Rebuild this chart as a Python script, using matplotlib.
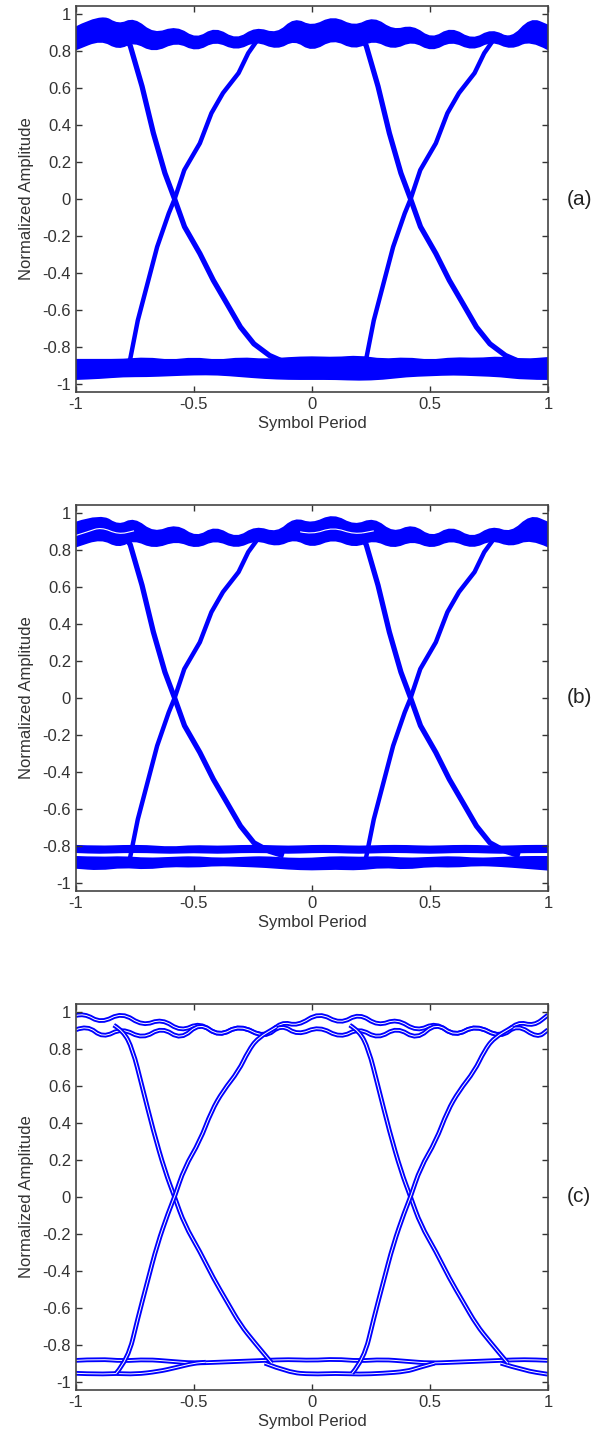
import matplotlib.pyplot as plt
from matplotlib.path import Path
from matplotlib.patches import PathPatch

plt.rcParams['font.family'] = ['Liberation Sans', 'DejaVu Sans']
BLUE = '#0000ff'

# ---------------- panel (a) ----------------
a_up_x = [-1.0, -0.893, -0.82, -0.754, -0.67, -0.574, -0.49, -0.41, -0.32, -0.238, -0.148, -0.074, 0.0,
          0.09, 0.18, 0.262, 0.344, 0.426, 0.508, 0.59, 0.68, 0.762, 0.844, 0.926, 1.0]
a_up_top = [0.93, 1.0, 0.94, 0.98, 0.89, 0.935, 0.862, 0.93, 0.857, 0.93, 0.89, 0.98, 0.93,
            0.99, 0.93, 0.985, 0.91, 0.94, 0.862, 0.93, 0.857, 0.92, 0.862, 0.98, 0.94]
a_up_bot = [0.81, 0.865, 0.81, 0.855, 0.795, 0.855, 0.80, 0.86, 0.805, 0.86, 0.81, 0.865, 0.80,
            0.87, 0.81, 0.865, 0.81, 0.86, 0.80, 0.86, 0.805, 0.86, 0.81, 0.865, 0.81]
a_lo_x = [-1, -0.9, -0.8, -0.7, -0.6, -0.5, -0.4, -0.3, -0.2, -0.1, 0, 0.1, 0.2, 0.3, 0.4, 0.5, 0.6, 0.7, 0.8, 0.9, 1]
a_lo_top = [-0.87, -0.87, -0.87, -0.86, -0.875, -0.86, -0.875, -0.86, -0.87, -0.86, -0.855,
            -0.86, -0.85, -0.87, -0.86, -0.875, -0.86, -0.865, -0.855, -0.87, -0.86]
a_lo_bot = [-0.975, -0.97, -0.96, -0.96, -0.955, -0.95, -0.95, -0.96, -0.97, -0.975, -0.975,
            -0.975, -0.98, -0.975, -0.96, -0.955, -0.95, -0.955, -0.96, -0.975, -0.975]
a_fall1_x = [-0.79, -0.77, -0.72, -0.672, -0.623, -0.582, -0.54, -0.475, -0.418, -0.36, -0.303, -0.246, -0.18, -0.13]
a_fall2_x = [0.21, 0.23, 0.28, 0.328, 0.377, 0.418, 0.46, 0.525, 0.582, 0.64, 0.697, 0.754, 0.82, 0.87]
a_fall_y = [0.87, 0.83, 0.61, 0.357, 0.14, 0.0, -0.15, -0.295, -0.44, -0.567, -0.693, -0.784, -0.847, -0.875]
a_rise1_x = [-0.78, -0.77, -0.738, -0.697, -0.656, -0.607, -0.582, -0.541, -0.475, -0.426, -0.377, -0.311, -0.27, -0.23, -0.2]
a_rise2_x = [0.22, 0.23, 0.262, 0.303, 0.344, 0.393, 0.418, 0.459, 0.525, 0.574, 0.623, 0.689, 0.73, 0.77, 0.8]
a_rise_y = [-0.89, -0.865, -0.657, -0.458, -0.259, -0.078, 0.0, 0.157, 0.302, 0.465, 0.574, 0.682, 0.79, 0.863, 0.88]

# ---------------- panel (b) ----------------
b_up_x = a_up_x
b_up_top = [0.95, 0.995, 0.93, 0.975, 0.89, 0.94, 0.865, 0.93, 0.86, 0.93, 0.89, 0.975, 0.94,
            0.995, 0.93, 0.975, 0.89, 0.94, 0.865, 0.93, 0.86, 0.93, 0.89, 0.99, 0.95]
b_up_bot = [0.82, 0.865, 0.815, 0.86, 0.81, 0.855, 0.81, 0.86, 0.81, 0.86, 0.82, 0.865, 0.815,
            0.865, 0.815, 0.86, 0.81, 0.855, 0.81, 0.86, 0.81, 0.86, 0.82, 0.865, 0.82]
b_gap_x = [-1.0, -0.95, -0.893, -0.82, -0.754]
b_gap_y = [0.88, 0.9, 0.925, 0.885, 0.905]
b_gap2_x = [-0.05, 0.0, 0.09, 0.18, 0.262]
b_gap2_y = [0.9, 0.885, 0.925, 0.885, 0.905]
b_lo1_x = a_lo_x
b_lo1_top = [-0.80, -0.805, -0.80, -0.80, -0.81, -0.80, -0.805, -0.80, -0.80, -0.805, -0.80,
             -0.80, -0.805, -0.80, -0.80, -0.805, -0.80, -0.80, -0.805, -0.80, -0.80]
b_lo1_bot = [-0.835, -0.84, -0.835, -0.835, -0.84, -0.835, -0.84, -0.835, -0.835, -0.84, -0.835,
             -0.835, -0.84, -0.835, -0.835, -0.84, -0.835, -0.835, -0.84, -0.835, -0.835]
b_lo2_top = [-0.86, -0.865, -0.86, -0.87, -0.865, -0.86, -0.87, -0.865, -0.86, -0.87, -0.87,
             -0.86, -0.865, -0.86, -0.87, -0.865, -0.86, -0.87, -0.865, -0.86, -0.86]
b_lo2_bot = [-0.92, -0.93, -0.915, -0.925, -0.91, -0.915, -0.905, -0.91, -0.915, -0.925, -0.93,
             -0.925, -0.93, -0.915, -0.925, -0.91, -0.915, -0.905, -0.91, -0.92, -0.93]
b_fall_y = [0.87, 0.83, 0.61, 0.357, 0.14, 0.0, -0.15, -0.295, -0.44, -0.567, -0.693, -0.784, -0.83, -0.85]
b_rise_y = [-0.9, -0.86, -0.657, -0.458, -0.259, -0.078, 0.0, 0.157, 0.302, 0.465, 0.574, 0.682, 0.79, 0.86, 0.88]

# ---------------- panel (c) ----------------
c_ut_x = [-1.0, -0.966, -0.893, -0.805, -0.717, -0.636, -0.555, -0.475, -0.394, -0.306, -0.2, -0.13,
          -0.06, 0.03, 0.12, 0.2, 0.28, 0.36, 0.445, 0.525, 0.606, 0.694, 0.8, 0.87, 0.94, 1.0]
c_ut_y = [0.982, 0.995, 0.94, 1.0, 0.925, 0.965, 0.895, 0.945, 0.868, 0.932, 0.86, 0.95,
          0.925, 1.0, 0.935, 0.995, 0.925, 0.965, 0.895, 0.945, 0.868, 0.932, 0.86, 0.95, 0.925, 0.985]
c_ul_x = [-1.0, -0.952, -0.886, -0.805, -0.717, -0.636, -0.555, -0.475, -0.394, -0.306, -0.2, -0.13,
          -0.06, 0.03, 0.12, 0.2, 0.28, 0.36, 0.445, 0.525, 0.606, 0.694, 0.8, 0.87, 0.955, 1.0]
c_ul_y = [0.905, 0.93, 0.86, 0.915, 0.855, 0.92, 0.85, 0.945, 0.868, 0.932, 0.86, 0.935,
          0.875, 0.925, 0.86, 0.915, 0.855, 0.92, 0.85, 0.945, 0.868, 0.932, 0.86, 0.935, 0.86, 0.905]
c_l1_x = a_lo_x
c_l1_y = [-0.885, -0.878, -0.888, -0.88, -0.89, -0.9, -0.895, -0.89, -0.885, -0.88, -0.885,
          -0.878, -0.888, -0.88, -0.89, -0.9, -0.895, -0.89, -0.885, -0.88, -0.885]
c_l2a_x = [-1.0, -0.9, -0.83, -0.75, -0.65, -0.58, -0.5, -0.45]
c_l2a_y = [-0.955, -0.96, -0.955, -0.96, -0.945, -0.925, -0.9, -0.895]
c_l2b_x = [-0.2, -0.1, 0.0, 0.1, 0.2, 0.3, 0.4, 0.45, 0.52]
c_l2b_y = [-0.9, -0.95, -0.96, -0.955, -0.96, -0.955, -0.945, -0.925, -0.9]
c_l2c_x = [0.8, 0.9, 1.0]
c_l2c_y = [-0.9, -0.94, -0.96]
c_fall1_x = [-0.84, -0.8, -0.76, -0.72, -0.672, -0.623, -0.582, -0.54, -0.475, -0.418, -0.36, -0.303, -0.246, -0.17]
c_fall2_x = [0.16, 0.2, 0.24, 0.28, 0.328, 0.377, 0.418, 0.46, 0.525, 0.582, 0.64, 0.697, 0.754, 0.83]
c_fall_y = [0.93, 0.9, 0.8, 0.6, 0.357, 0.14, 0.0, -0.15, -0.295, -0.44, -0.567, -0.693, -0.784, -0.9]
c_rise1_x = [-0.83, -0.78, -0.738, -0.697, -0.656, -0.607, -0.582, -0.541, -0.475, -0.426, -0.377, -0.311, -0.27, -0.23, -0.15]
c_rise2_x = [0.17, 0.22, 0.262, 0.303, 0.344, 0.393, 0.418, 0.459, 0.525, 0.574, 0.623, 0.689, 0.73, 0.77, 0.85]
c_rise_y = [-0.955, -0.88, -0.657, -0.458, -0.259, -0.078, 0.0, 0.157, 0.302, 0.465, 0.574, 0.682, 0.79, 0.86, 0.92]

xticks = [-1, -0.5, 0, 0.5, 1]
xticklabels = ['-1', '-0.5', '0', '0.5', '1']
yticks = [1, 0.8, 0.6, 0.4, 0.2, 0, -0.2, -0.4, -0.6, -0.8, -1]
yticklabels = ['1', '0.8', '0.6', '0.4', '0.2', '0', '-0.2', '-0.4', '-0.6', '-0.8', '-1']
panel_tags = ['(a)', '(b)', '(c)']


def curve(x, y, first=Path.MOVETO):
    # quadratic bezier: read points act as control points, curve passes between them
    verts = [(x[0], y[0])]
    codes = [first]
    for i in range(1, len(x) - 1):
        verts += [(x[i], y[i]), ((x[i] + x[i + 1]) / 2, (y[i] + y[i + 1]) / 2)]
        codes += [Path.CURVE3, Path.CURVE3]
    verts.append((x[-1], y[-1]))
    codes.append(Path.LINETO)
    return verts, codes


def band(ax, x, top, bot):
    v1, c1 = curve(x, top)
    v2, c2 = curve(x[::-1], bot[::-1], first=Path.LINETO)
    verts = v1 + v2 + [v1[0]]
    codes = c1 + c2 + [Path.CLOSEPOLY]
    ax.add_patch(PathPatch(Path(verts, codes), facecolor=BLUE, edgecolor=BLUE, lw=1.2))


def wavy(ax, x, y, lw=3.5, color=BLUE):
    v, c = curve(x, y)
    ax.add_patch(PathPatch(Path(v, c), fill=False, edgecolor=color, lw=lw, capstyle='butt'))


def hollow(ax, x, y):
    # double thin trace look
    wavy(ax, x, y, lw=3.4)
    wavy(ax, x, y, lw=0.7, color='white')


def style(ax):
    ax.set_xlim(-1, 1)
    ax.set_ylim(-1.045, 1.045)
    ax.set_xticks(xticks)
    ax.set_xticklabels(xticklabels)
    ax.set_yticks(yticks)
    ax.set_yticklabels(yticklabels)
    ax.tick_params(direction='in', length=4, top=True, right=True, labelsize=12,
                   colors='#333333', width=1)
    for s in ax.spines.values():
        s.set_color('#444444')
        s.set_linewidth(1.2)
    ax.set_xlabel('Symbol Period', fontsize=12, color='#333333', labelpad=3)
    ax.set_ylabel('Normalized Amplitude', fontsize=12, color='#333333', labelpad=6)


fig = plt.figure(figsize=(6.02, 14.35), dpi=100)
bottoms = [0.7268, 0.3791, 0.0314]
axs = [fig.add_axes([0.1262, b, 0.784, 0.269]) for b in bottoms]

# (a)
ax = axs[0]
band(ax, a_up_x, a_up_top, a_up_bot)
band(ax, a_lo_x, a_lo_top, a_lo_bot)
for fx in [a_fall1_x, a_fall2_x]:
    ax.plot(fx, a_fall_y, color=BLUE, lw=3.8)
for rx in [a_rise1_x, a_rise2_x]:
    ax.plot(rx, a_rise_y, color=BLUE, lw=3.2)
style(ax)

# (b)
ax = axs[1]
band(ax, b_up_x, b_up_top, b_up_bot)
wavy(ax, b_gap_x, b_gap_y, lw=0.8, color='white')
wavy(ax, b_gap2_x, b_gap2_y, lw=0.8, color='white')
band(ax, b_lo1_x, b_lo1_top, b_lo1_bot)
band(ax, b_lo1_x, b_lo2_top, b_lo2_bot)
for fx in [a_fall1_x, a_fall2_x]:
    ax.plot(fx, b_fall_y, color=BLUE, lw=3.8)
for rx in [a_rise1_x, a_rise2_x]:
    ax.plot(rx, b_rise_y, color=BLUE, lw=3.2)
style(ax)

# (c)
ax = axs[2]
hollow(ax, c_ut_x, c_ut_y)
hollow(ax, c_ul_x, c_ul_y)
hollow(ax, c_l1_x, c_l1_y)
hollow(ax, c_l2a_x, c_l2a_y)
hollow(ax, c_l2b_x, c_l2b_y)
hollow(ax, c_l2c_x, c_l2c_y)
for fx in [c_fall1_x, c_fall2_x]:
    hollow(ax, fx, c_fall_y)
for rx in [c_rise1_x, c_rise2_x]:
    hollow(ax, rx, c_rise_y)
style(ax)

for ax, tag in zip(axs, panel_tags):
    ax.text(1.04, 0.5, tag, transform=ax.transAxes, fontsize=15, color='#222222',
            va='center', ha='left')

fig.savefig('out.png', dpi=100)
